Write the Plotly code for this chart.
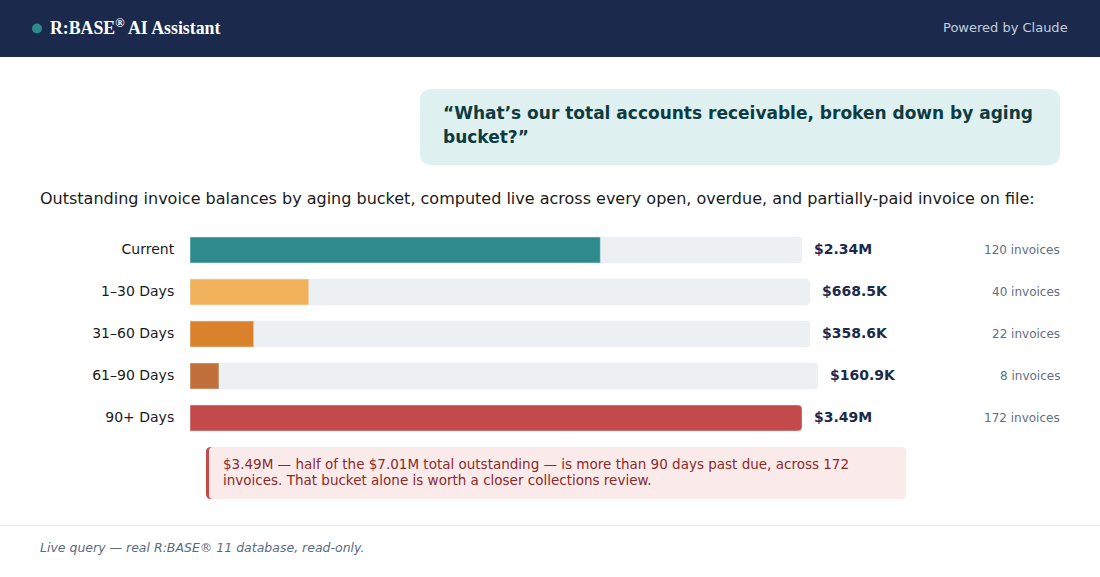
import plotly.graph_objects as go

W, H = 1100, 577
SANS = "DejaVu Sans"

# chart data
buckets = ["Current", "1–30 Days", "31–60 Days", "61–90 Days", "90+ Days"]
balances = [2.34e6, 668.5e3, 358.6e3, 160.9e3, 3.49e6]
balance_labels = ["$2.34M", "$668.5K", "$358.6K", "$160.9K", "$3.49M"]
invoice_labels = ["120 invoices", "40 invoices", "22 invoices", "8 invoices", "172 invoices"]

# track length per row in px, it shrinks with the width of the value label
track_px = [612, 620, 620, 628, 612]
bar_colors = ["#2e8b8b", "#f2b25c", "#d9822b", "#c1703c", "#c24a4a"]


def px_x(x):
    return x / W


def px_y(y):
    return 1 - y / H


def round_rect(x0, y0, x1, y1, r):
    # rounded rectangle path in paper coordinates
    pts = [
        f"M {px_x(x0 + r)} {px_y(y0)}",
        f"L {px_x(x1 - r)} {px_y(y0)}",
        f"Q {px_x(x1)} {px_y(y0)} {px_x(x1)} {px_y(y0 + r)}",
        f"L {px_x(x1)} {px_y(y1 - r)}",
        f"Q {px_x(x1)} {px_y(y1)} {px_x(x1 - r)} {px_y(y1)}",
        f"L {px_x(x0 + r)} {px_y(y1)}",
        f"Q {px_x(x0)} {px_y(y1)} {px_x(x0)} {px_y(y1 - r)}",
        f"L {px_x(x0)} {px_y(y0 + r)}",
        f"Q {px_x(x0)} {px_y(y0)} {px_x(x0 + r)} {px_y(y0)}",
        "Z",
    ]
    return " ".join(pts)


def page_text(text, x, y, size, color, anchor="left", family=SANS):
    return dict(
        text=text, x=px_x(x), y=px_y(y), xref="paper", yref="paper",
        xanchor=anchor, yanchor="middle", align="left", showarrow=False,
        borderpad=0, font=dict(family=family, size=size, color=color),
    )


max_balance = max(balances)
fill_px = [b / max_balance * t for b, t in zip(balances, track_px)]

fig = go.Figure()
fig.add_trace(go.Bar(y=buckets, x=track_px, orientation="h", marker_color="#edf0f3", hoverinfo="skip"))
fig.add_trace(go.Bar(y=buckets, x=fill_px, orientation="h", marker_color=bar_colors,
                     customdata=balance_labels, hovertemplate="%{y}: %{customdata}<extra></extra>"))

shapes = [
    dict(type="rect", xref="paper", yref="paper", x0=0, x1=1, y0=px_y(57), y1=1,
         fillcolor="#1b2a4c", line_width=0, layer="below"),
    dict(type="circle", xref="paper", yref="paper", x0=px_x(32), x1=px_x(42), y0=px_y(33.5), y1=px_y(23.5),
         fillcolor="#2e8b8b", line_width=0),
    dict(type="path", xref="paper", yref="paper", path=round_rect(420, 89, 1060, 165, 12),
         fillcolor="#dff0f0", line_width=0, layer="below"),
    dict(type="path", xref="paper", yref="paper", path=round_rect(206, 447, 222, 499, 5),
         fillcolor="#c24a4a", line_width=0, layer="below"),
    dict(type="path", xref="paper", yref="paper", path=round_rect(209, 447, 906, 499, 4),
         fillcolor="#faeaea", line_width=0, layer="below"),
    dict(type="line", xref="paper", yref="paper", x0=0, x1=1, y0=px_y(525.5), y1=px_y(525.5),
         line=dict(color="#e6e8ef", width=1)),
]

annotations = [
    page_text("<b>R:BASE<sup>®</sup> AI Assistant</b>", 48.5, 27, 17.8, "#ffffff", family="Liberation Serif"),
    page_text("Powered by Claude", 1069, 27.5, 13, "#c6cedb", anchor="right"),
    page_text("<b>“What’s our total accounts receivable, broken down by aging</b>", 442, 113, 17, "#0d3b40"),
    page_text("<b>bucket?”</b>", 442, 137, 17, "#0d3b40"),
    page_text("Outstanding invoice balances by aging bucket, computed live across every open, overdue, and partially-paid invoice on file:",
              38.5, 198, 16, "#1a1a1a"),
    page_text("$3.49M — half of the $7.01M total outstanding — is more than 90 days past due, across 172",
              221.5, 464, 13.5, "#8a2a2a"),
    page_text("invoices. That bucket alone is worth a closer collections review.", 221.5, 480, 13.5, "#8a2a2a"),
    page_text("<i>Live query — real R:BASE® 11 database, read-only.</i>", 38.5, 547, 12.5, "#5a6b80"),
]
for bucket, track, value, count in zip(buckets, track_px, balance_labels, invoice_labels):
    annotations.append(dict(
        text=f"<b>{value}</b>", x=track + 11, y=bucket, xref="x", yref="y", xanchor="left",
        yanchor="middle", yshift=1, showarrow=False, borderpad=0,
        font=dict(family=SANS, size=14, color="#1b2a4c"),
    ))
    annotations.append(dict(
        text=count, x=px_x(1061), y=bucket, xref="paper", yref="y", xanchor="right",
        yanchor="middle", showarrow=False, borderpad=0,
        font=dict(family=SANS, size=12, color="#5f6f84"),
    ))

fig.update_layout(
    width=W, height=H, autosize=False,
    margin=dict(l=0, r=0, t=0, b=0),
    paper_bgcolor="white", plot_bgcolor="white",
    font=dict(family=SANS),
    barmode="overlay", bargap=1 - 26 / 42, barcornerradius=4,
    showlegend=False,
    shapes=shapes, annotations=annotations,
)
fig.update_xaxes(domain=[px_x(190), px_x(1060)], range=[0, 870], visible=False, fixedrange=True)
fig.update_yaxes(
    domain=[px_y(439), px_y(229)], categoryorder="array", categoryarray=buckets, autorange="reversed",
    ticks="outside", ticklen=12, tickcolor="rgba(0,0,0,0)", showline=False, showgrid=False,
    ticklabelshift=1,
    tickfont=dict(family=SANS, size=14, color="#1a1a1a"), fixedrange=True,
)

fig.write_html("out.html", config={"displayModeBar": False},
               post_script="document.body.style.margin='0';")
